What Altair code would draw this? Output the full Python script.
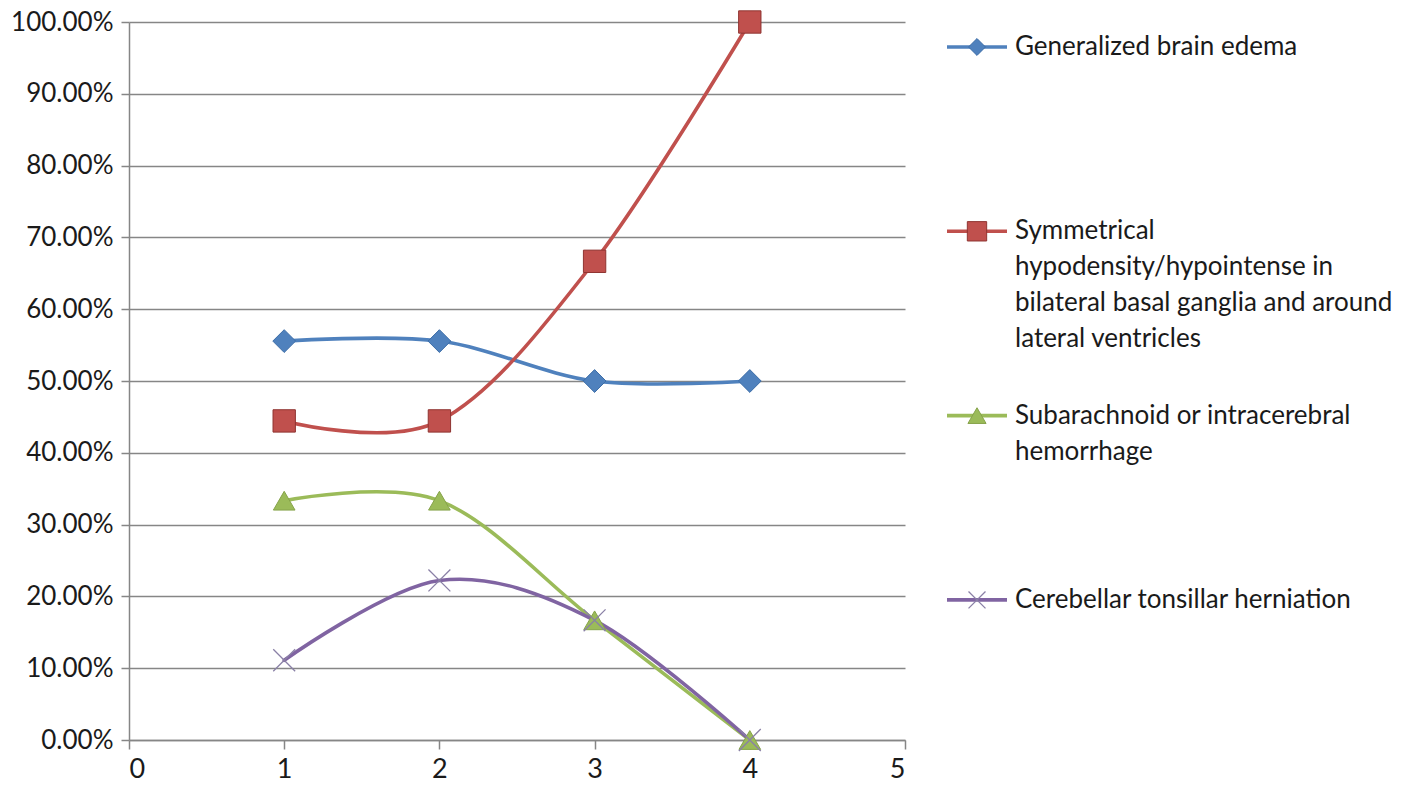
import altair as alt
import pandas as pd

# ---------------- data ----------------
x_vals = [1, 2, 3, 4]
series_names = [
    "Generalized brain edema",
    "Symmetrical hypodensity/hypointense in bilateral basal ganglia and around lateral ventricles",
    "Subarachnoid or intracerebral hemorrhage",
    "Cerebellar tonsillar herniation",
]
legend_labels = [
    "Generalized brain edema",
    "Symmetrical\nhypodensity/hypointense in\nbilateral basal ganglia and around\nlateral ventricles",
    "Subarachnoid or intracerebral\nhemorrhage",
    "Cerebellar tonsillar herniation",
]
edema = [0.5556, 0.5556, 0.5000, 0.5000]
symmetrical = [0.4444, 0.4444, 0.6667, 1.0000]
hemorrhage = [0.3333, 0.3333, 0.1667, 0.0000]
herniation = [0.1111, 0.2222, 0.1667, 0.0000]
all_values = [edema, symmetrical, hemorrhage, herniation]

x_ticks = [0, 1, 2, 3, 4, 5]
y_ticks = [0.0, 0.1, 0.2, 0.3, 0.4, 0.5, 0.6, 0.7, 0.8, 0.9, 1.0]

# ---------------- styles ----------------
colors = ["#4F81BD", "#C0504D", "#9BBB59", "#8064A2"]
X_PATH = "M-1,-1L1,1M-1,1L1,-1"
markers = [
    dict(shape="diamond", size=520, filled=True, fill="#4F81BD", stroke="#3d6ea8", strokeWidth=1),
    dict(shape="square", size=500, filled=True, fill="#C0504D", stroke="#8f3431", strokeWidth=1),
    dict(shape="triangle-up", size=470, filled=True, fill="#9BBB59", stroke="#86a34a", strokeWidth=1),
    dict(shape=X_PATH, size=480, filled=False, stroke="#8a80a6", strokeWidth=1.3),
]
legend_scale = [0.55, 0.75, 0.7, 0.6]
FONT = "Lato"
TEXT_COLOR = "#1a1a1a"
GRID = "#868686"
NO_BORDER = alt.ViewBackground(stroke="transparent", strokeWidth=0)

rows = []
for name, vals in zip(series_names, all_values):
    for xv, v in zip(x_vals, vals):
        rows.append({"series": name, "x": xv, "value": v})
df = pd.DataFrame(rows)

x_enc = alt.X(
    "x:Q",
    scale=alt.Scale(domain=[0, 5], nice=False),
    axis=alt.Axis(
        values=x_ticks, format="d", title=None, grid=False,
        tickSize=9, tickColor=GRID, tickWidth=1.5,
        domainColor=GRID, domainWidth=1.5,
        labelFont=FONT, labelFontSize=27, labelColor=TEXT_COLOR, labelPadding=7,
    ),
)
y_enc = alt.Y(
    "value:Q",
    scale=alt.Scale(domain=[0, 1], nice=False),
    axis=alt.Axis(
        values=y_ticks, format=".2%", title=None, grid=True,
        gridColor=GRID, gridWidth=1.5,
        tickSize=8, tickColor=GRID, tickWidth=1.5,
        domainColor=GRID, domainWidth=1.5,
        labelFont=FONT, labelFontSize=26, labelColor=TEXT_COLOR, labelPadding=8,
    ),
)

lines = alt.Chart(df).mark_line(
    interpolate="cardinal", tension=0, strokeWidth=3.6, strokeCap="round"
).encode(
    x=x_enc,
    y=y_enc,
    color=alt.Color("series:N", scale=alt.Scale(domain=series_names, range=colors), legend=None),
    detail="series:N",
)

point_layers = []
for name, m in zip(series_names, markers):
    point_layers.append(
        alt.Chart(df[df["series"] == name]).mark_point(opacity=1, **m).encode(
            x="x:Q", y="value:Q"
        )
    )

main = alt.layer(lines, *point_layers).properties(width=776, height=718, view=NO_BORDER)

# ---------------- legend panel ----------------
leg_df = pd.DataFrame({
    "series": series_names,
    "label": legend_labels,
    "slot": [0, 1, 2, 3],
})
slot_y = alt.Y("slot:Q", scale=alt.Scale(domain=[-0.1356, 3.76], reverse=True, nice=False, zero=False), axis=None)

leg_lines = alt.Chart(leg_df).mark_rule(strokeWidth=3.6).encode(
    x=alt.value(12), x2=alt.value(72), y=slot_y,
    color=alt.Color("series:N", scale=alt.Scale(domain=series_names, range=colors), legend=None),
)
leg_points = []
for i, (name, m) in enumerate(zip(series_names, markers)):
    mm = dict(m)
    mm["size"] = m["size"] * legend_scale[i]
    leg_points.append(
        alt.Chart(leg_df[leg_df["slot"] == i]).mark_point(opacity=1, **mm).encode(
            x=alt.value(42), y=slot_y
        )
    )
leg_text = alt.Chart(leg_df).mark_text(
    align="left", baseline="top", dy=-13, fontSize=26, font=FONT,
    lineHeight=36, lineBreak="\n", color=TEXT_COLOR,
).encode(x=alt.value(80), y=slot_y, text="label:N")

legend = alt.layer(leg_lines, *leg_points, leg_text).properties(width=440, height=718, view=NO_BORDER)

chart = alt.hconcat(main, legend, spacing=30, bounds="flush").properties(
    padding={"left": 2, "top": 0, "right": 0, "bottom": 0}
).configure_view(strokeWidth=0, stroke="transparent").configure(background="white")

chart.save("out.html", embed_options={"renderer": "svg", "actions": False})
